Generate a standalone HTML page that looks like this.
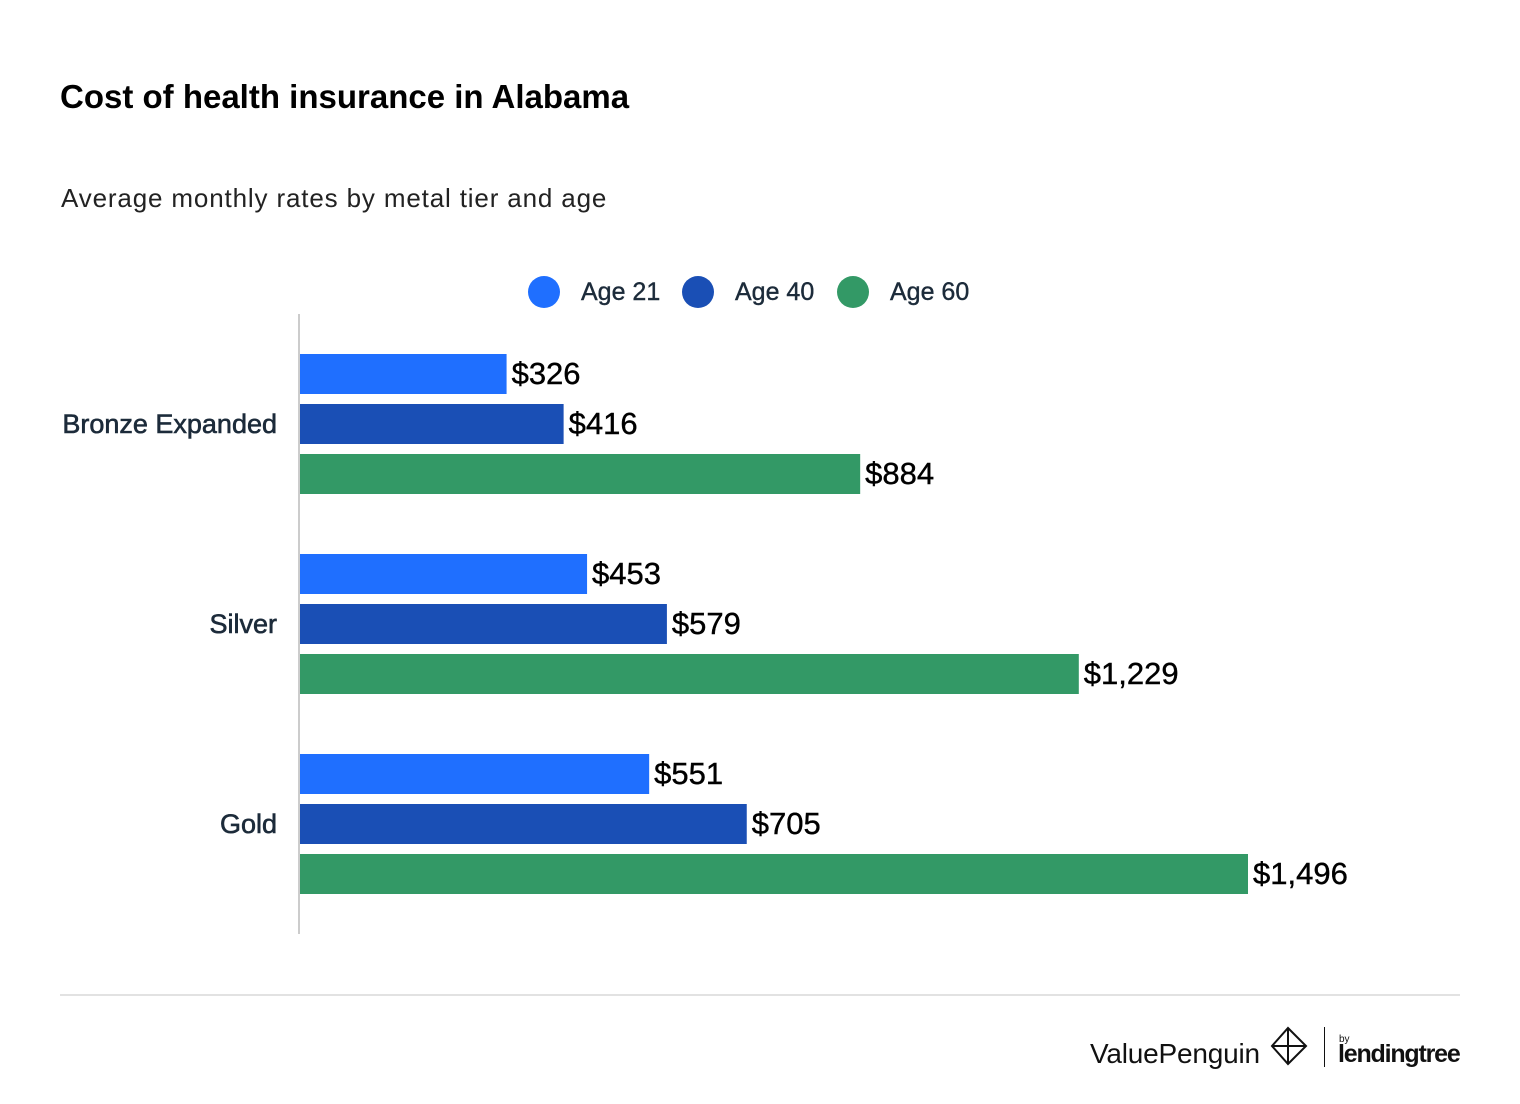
<!DOCTYPE html>
<html><head><meta charset="utf-8"><style>
body{margin:0;width:1520px;height:1104px;background:#fff;font-family:"Liberation Sans",sans-serif;position:relative;overflow:hidden}
.abs{position:absolute}
</style></head><body>
<div class="abs" style="left:60px;top:78px;font-size:33px;font-weight:bold;color:#000;letter-spacing:0px">Cost of health insurance in Alabama</div>
<div class="abs" style="left:61px;top:183px;font-size:26px;color:#222;letter-spacing:0.85px">Average monthly rates by metal tier and age</div>
<svg class="abs" style="left:0;top:0" width="1520" height="1104" id="chart"></svg>
<div class="abs" style="left:60px;top:994px;width:1400px;height:2px;background:#e2e2e2"></div>
<div class="abs" style="left:1090px;top:1038px;font-size:28px;color:#111;letter-spacing:-0.2px">ValuePenguin</div>
<svg class="abs" style="left:1270px;top:1026px" width="40" height="40"><path d="M18 2 L36 20 L18 38 L2 20 Z M18 2 L18 38 M2 20 L36 20" fill="none" stroke="#111" stroke-width="2"/></svg>
<div class="abs" style="left:1324px;top:1027px;width:1px;height:40px;background:#111"></div>
<div class="abs" style="left:1339px;top:1034px;font-size:10px;color:#111">by</div>
<div class="abs" style="left:1338px;top:1040px;font-size:25px;font-weight:bold;color:#111;letter-spacing:-1.2px">lendingtree</div>
<script>
const categories=["Bronze Expanded","Silver","Gold"];
const seriesNames=["Age 21","Age 40","Age 60"];
const age21=[326,453,551];
const age40=[416,579,705];
const age60=[884,1229,1496];
const colors=["#1f6fff","#1a4fb5","#339966"];
const svg=document.getElementById('chart');
const NS="http://www.w3.org/2000/svg";
const x0=300,pxPerDollar=948/1496;
function xs(v){return v*pxPerDollar;}
function yBar(ci,si){return 354+ci*200+si*50;}
function mk(t,a){const e=document.createElementNS(NS,t);for(const k in a)e.setAttribute(k,a[k]);svg.appendChild(e);return e;}
const lx=[544,698,853];
seriesNames.forEach((n,i)=>{
 const c=mk('circle',{cx:lx[i],cy:292,r:16,fill:colors[i]});
 
 
 const t=mk('text',{x:lx[i]+37,y:300,'font-size':25,fill:'#1c2b3a','font-family':'Liberation Sans','stroke':'#1c2b3a','stroke-width':0.4});
 t.textContent=n;
 
 
});
const axis=mk('line',{x1:299,y1:314,x2:299,y2:934,stroke:'#ccc','stroke-width':2});


const series=[age21,age40,age60];
categories.forEach((c,ci)=>{
 const t=mk('text',{x:277,y:yBar(ci,1)+29,'font-size':27,fill:'#1c2b3a','text-anchor':'end','font-family':'Liberation Sans','stroke':'#1c2b3a','stroke-width':0.6});
 t.textContent=c;
 
 
 series.forEach((s,si)=>{
  const y=yBar(ci,si),w=xs(s[ci]);
  const r=mk('rect',{x:x0,y:y,width:w,height:40,fill:colors[si]});
  
  
  const l=mk('text',{x:x0+w+5,y:y+30,'font-size':31,fill:'#000','font-family':'Liberation Sans','stroke':'#000','stroke-width':0.4});
  l.textContent='$'+s[ci].toLocaleString('en-US');
  
  
 });
});
</script>
</body></html>
